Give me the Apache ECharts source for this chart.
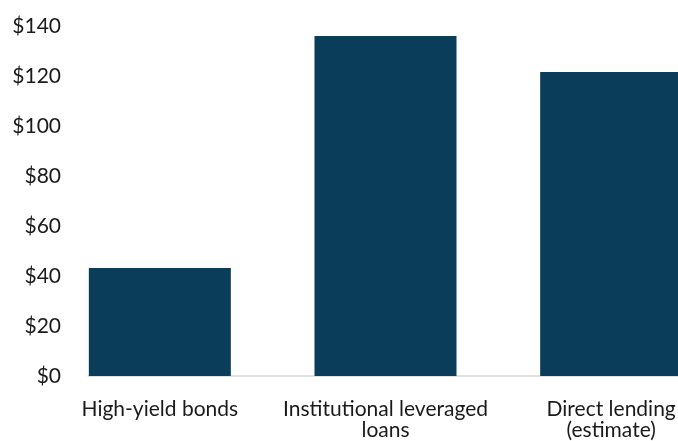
<!DOCTYPE html>
<html>
<head>
<meta charset="utf-8">
<script src="https://cdn.jsdelivr.net/npm/echarts@6/dist/echarts.min.js"></script>
<style>
  html, body { margin: 0; padding: 0; background: #fff; }
  #main { width: 678px; height: 441px; }
</style>
</head>
<body>
<div id="main"></div>
<script>
var categories = ['High-yield bonds', 'Institutional leveraged\nloans', 'Direct lending\n(estimate)'];
var values = [43.2, 136, 121.6];
var yTicks = [0, 20, 40, 60, 80, 100, 120, 140];

var myChart = echarts.init(document.getElementById('main'));

var font = 'Lato, "Open Sans", sans-serif';

option = {
    backgroundColor: '#fff',
    animation: false,
    grid: [{
        // category grid, wider than the canvas so bands match the picture
        top: 26,
        bottom: 65,
        left: 47,
        width: 677,
        outerBoundsMode: 'none',
        containLabel: false
    }, {
        // grid carrying the visible y labels and baseline
        top: 26,
        bottom: 65,
        left: 88,
        right: 0,
        outerBoundsMode: 'none',
        containLabel: false
    }],
    xAxis: [{
        type: 'category',
        gridIndex: 0,
        data: categories,
        axisLine: { show: false },
        axisTick: { show: false },
        axisLabel: {
            interval: 0,
            margin: 23,
            color: '#1a1a1a',
            fontFamily: font,
            fontSize: 21,
            lineHeight: 21
        }
    }, {
        type: 'value',
        gridIndex: 1,
        axisLine: { show: true, onZero: false, lineStyle: { color: '#d9d9d9', width: 1.5 } },
        axisTick: { show: false },
        axisLabel: { show: false },
        splitLine: { show: false }
    }],
    yAxis: [{
        type: 'value',
        gridIndex: 0,
        min: 0,
        max: yTicks[yTicks.length - 1],
        interval: 20,
        show: false
    }, {
        type: 'value',
        gridIndex: 1,
        min: 0,
        max: yTicks[yTicks.length - 1],
        interval: 20,
        axisLine: { show: false },
        axisTick: { show: false },
        splitLine: { show: false },
        axisLabel: {
            margin: 27,
            color: '#1a1a1a',
            fontFamily: font,
            fontSize: 21,
            formatter: function (v) { return '$' + v; }
        }
    }],
    series: [{
        type: 'bar',
        xAxisIndex: 0,
        yAxisIndex: 0,
        barWidth: 142,
        clip: false,
        itemStyle: { color: '#0a3d5a' },
        data: values
    }]
};

myChart.setOption(option);
</script>
</body>
</html>
